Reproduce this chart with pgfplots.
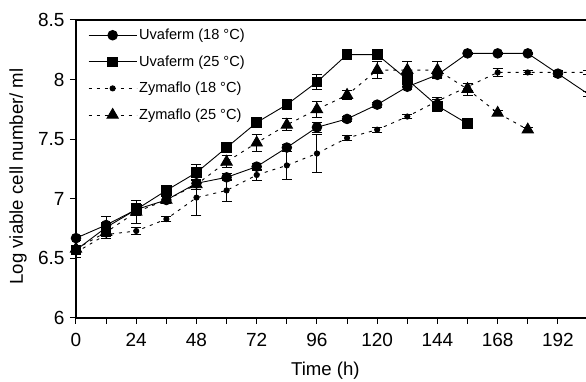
\documentclass[border=0pt]{standalone}
\usepackage{pgfplots}
\pgfplotsset{compat=1.18}
\usepackage{pgfplotstable}
\usepackage{fontspec}
\setmainfont{Liberation Sans}
\pgfplotstableread{
t y e
0 6.67 0.02
12 6.78 0.07
24 6.91 0.04
36 6.99 0.03
48 7.13 0.03
60 7.18 0.03
72 7.27 0.03
84 7.43 0.03
96 7.60 0.04
108 7.67 0.02
120 7.79 0.02
132 7.94 0.02
144 8.04 0.02
156 8.22 0.01
168 8.22 0.01
180 8.22 0.01
192 8.05 0.02
204 7.88 0.02
}\uvaA
\pgfplotstableread{
t y e
0 6.57 0.02
12 6.76 0.04
24 6.91 0.05
36 7.07 0.03
48 7.22 0.07
60 7.43 0.02
72 7.64 0.02
84 7.79 0.02
96 7.98 0.06
108 8.21 0.02
120 8.21 0.02
132 8.00 0.04
144 7.78 0.05
156 7.63 0.02
}\uvaB
\pgfplotstableread{
t y e
0 6.55 0.04
12 6.70 0.03
24 6.73 0.03
36 6.83 0.02
48 7.01 0.15
60 7.07 0.09
72 7.20 0.05
84 7.28 0.12
96 7.38 0.16
108 7.51 0.02
120 7.58 0.02
132 7.69 0.02
144 7.82 0.03
156 7.94 0.03
168 8.06 0.03
180 8.06 0.02
192 8.06 0.02
204 8.06 0.02
}\zymA
\pgfplotstableread{
t y e
0 6.58 0.03
12 6.72 0.04
24 6.89 0.10
36 6.99 0.03
48 7.12 0.04
60 7.31 0.05
72 7.47 0.07
84 7.62 0.05
96 7.75 0.07
108 7.87 0.04
120 8.08 0.07
132 8.08 0.07
144 8.08 0.07
156 7.92 0.05
168 7.72 0.02
180 7.58 0.02
}\zymB
\pgfplotsset{
  myerr/.style={error bars/.cd, y dir=both, y explicit,
    error bar style={solid, line width=0.9pt},
    error mark options={rotate=90, mark size=5pt, line width=0.9pt, solid}},
}
\begin{document}
\begin{tikzpicture}
\useasboundingbox (-76pt,-64pt) rectangle (510pt,318pt);
\begin{axis}[
  scale only axis,
  width=510pt, height=298pt,
  xmin=0, xmax=203.2, ymin=6, ymax=8.5,
  axis x line=box, axis y line*=left,
  axis line style={line width=1.4pt},
  xtick={0,24,...,192},
  minor xtick={12,36,...,204},
  ytick={6,6.5,...,8.5},
  tick pos=left,
  tick align=outside,
  major tick length=6pt,
  minor tick length=6pt,
  every tick/.style={black, line width=1pt},
  /pgf/number format/assume math mode=true,
  tick label style={font=\fontsize{19}{21}\selectfont},
  xticklabel style={yshift=-6pt},
  yticklabel style={xshift=-2pt},
  label style={font=\fontsize{18.6}{21}\selectfont},
  xlabel={Time (h)},
  ylabel={Log viable cell number/ ml},
  xlabel style={at={(axis description cs:0.489,-0.178)}, anchor=center},
  ylabel style={at={(axis description cs:-0.1137,0.475)}, anchor=center},
  legend cell align=left,
  legend style={draw=none, fill=none, at={(0,1)}, anchor=north west, xshift=9pt, yshift=-5pt,
    font=\fontsize{14.6}{17}\selectfont, row sep=10.5pt},
  legend image code/.code={\draw[mark repeat=2,mark phase=2,#1] plot coordinates {(0pt,0pt) (24pt,0pt) (48pt,0pt)};},
]
\addplot[black, line width=0.9pt, mark=*, mark size=4.8pt, myerr] table[x=t, y=y, y error=e] {\uvaA};
\addlegendentry{Uvaferm (18 °C)}
\addplot[black, line width=0.9pt, mark=square*, mark size=4.8pt, myerr] table[x=t, y=y, y error=e] {\uvaB};
\addlegendentry{Uvaferm (25 °C)}
\addplot[black, line width=0.9pt, dash pattern=on 3pt off 5pt, mark=*, mark size=2.6pt, mark options={solid}, myerr] table[x=t, y=y, y error=e] {\zymA};
\addlegendentry{Zymaflo (18 °C)}
\addplot[black, line width=0.9pt, dash pattern=on 3pt off 5pt, mark=triangle*, mark size=6.5pt, mark options={solid}, myerr] table[x=t, y=y, y error=e] {\zymB};
\addlegendentry{Zymaflo (25 °C)}
\end{axis}
\end{tikzpicture}
\end{document}
